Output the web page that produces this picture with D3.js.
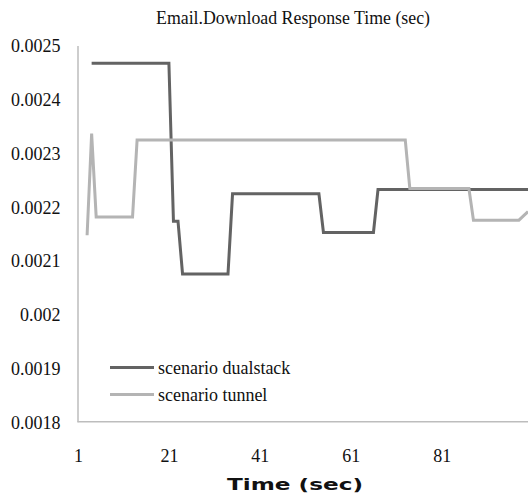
<!DOCTYPE html>
<html>
<head>
<meta charset="utf-8">
<script src="https://cdn.jsdelivr.net/npm/d3@7.9.0/dist/d3.min.js"></script>
<style>
  html, body { margin: 0; padding: 0; background: #fff; }
  svg { display: block; }
  .serif { font-family: "Liberation Serif", "Times New Roman", serif; fill: #111; }
</style>
</head>
<body>
<div id="chart"></div>
<script>
// time (sec) where the value changes, and the value there
const dualTime  = [4, 21, 22, 23, 24, 34, 35, 54, 55, 66, 67, 100];
const dualValue = [0.002467, 0.002467, 0.002173, 0.002173, 0.002075, 0.002075,
                   0.002224, 0.002224, 0.002152, 0.002152, 0.002232, 0.002232];

const tunnelTime  = [3, 4, 5, 13, 14, 73, 74, 87, 88, 98, 99, 100];
const tunnelValue = [0.002147, 0.002336, 0.002181, 0.002181, 0.002324, 0.002324,
                     0.002234, 0.002234, 0.002175, 0.002175, 0.002183, 0.002191];

const xTicks = [1, 21, 41, 61, 81];
const yTicks = [0.0018, 0.0019, 0.002, 0.0021, 0.0022, 0.0023, 0.0024, 0.0025];
const yTickLabels = ['0.0018', '0.0019', '0.002', '0.0021', '0.0022', '0.0023', '0.0024', '0.0025'];

const seriesNames = ['scenario dualstack', 'scenario tunnel'];

const width = 528;
const height = 496;
const stretch = 1.1; // the serif text in the picture is a bit taller than wide

const svg = d3.select('#chart')
  .append('svg')
  .attr('width', width)
  .attr('height', height);

// plot area
const plot = { left: 77.5, right: 528, top: 45.5, bottom: 421.7 };

const xScale = d3.scaleLinear()
  .domain([1, 100])
  .range([78, 528]);

const yScale = d3.scaleLinear()
  .domain([0.0018, 0.0025])
  .range([plot.bottom, plot.top]);

// axes lines + labels
const yAxis = d3.axisLeft(yScale)
  .tickValues(yTicks)
  .tickFormat((d, i) => yTickLabels[i])
  .tickSize(0)
  .tickPadding(17);

const xAxis = d3.axisBottom(xScale)
  .tickValues(xTicks)
  .tickSize(0)
  .tickPadding(23.6);

const gy = svg.append('g')
  .attr('transform', `translate(${plot.left},0)`)
  .call(yAxis);

const gx = svg.append('g')
  .attr('transform', `translate(0,${plot.bottom})`)
  .call(xAxis);

gx.select('.domain').remove();
svg.append('line')
  .attr('x1', plot.left).attr('x2', plot.right)
  .attr('y1', plot.bottom).attr('y2', plot.bottom)
  .attr('stroke', '#bdbdbd').attr('stroke-width', 1.5);

gy.select('.domain').attr('stroke', '#bdbdbd').attr('stroke-width', 1.5);

[gx, gy].forEach(g => g.selectAll('text')
  .attr('class', 'serif')
  .style('font-size', '18px')
  .attr('fill', '#111')
  .attr('transform', `scale(1,${stretch})`));

// lines
const line = d3.line()
  .x(d => xScale(d[0]))
  .y(d => yScale(d[1]));

const dualData = dualTime.map((t, i) => [t, dualValue[i]]);
const tunnelData = tunnelTime.map((t, i) => [t, tunnelValue[i]]);

const colors = ['#636363', '#b4b4b4'];

svg.append('path')
  .datum(dualData)
  .attr('d', line)
  .attr('fill', 'none')
  .attr('stroke', colors[0])
  .attr('stroke-width', 3)
  .attr('stroke-linejoin', 'miter');

svg.append('path')
  .datum(tunnelData)
  .attr('d', line)
  .attr('fill', 'none')
  .attr('stroke', colors[1])
  .attr('stroke-width', 3)
  .attr('stroke-linejoin', 'miter');

// legend
const legend = svg.append('g').attr('class', 'legend');
seriesNames.forEach((name, i) => {
  const y = 367.5 + i * 27;
  legend.append('line')
    .attr('x1', 110).attr('x2', 154)
    .attr('y1', y).attr('y2', y)
    .attr('stroke', colors[i])
    .attr('stroke-width', 3);
  legend.append('text')
    .attr('class', 'serif')
    .attr('transform', `translate(158,${y + 6}) scale(1,${stretch})`)
    .style('font-size', '18px')
    .text(name);
});

// titles
svg.append('text')
  .attr('class', 'serif')
  .attr('transform', `translate(293,24) scale(1,${stretch})`)
  .attr('text-anchor', 'middle')
  .style('font-size', '18px')
  .attr('textLength', 274)
  .attr('lengthAdjust', 'spacingAndGlyphs')
  .text('Email.Download Response Time (sec)');

svg.append('text')
  .attr('x', 295)
  .attr('y', 490)
  .attr('text-anchor', 'middle')
  .style('font-family', '"DejaVu Sans", sans-serif')
  .style('font-weight', 'bold')
  .style('font-size', '15px')
  .attr('fill', '#111')
  .attr('textLength', 136)
  .attr('lengthAdjust', 'spacingAndGlyphs')
  .text('Time (sec)');
</script>
</body>
</html>
